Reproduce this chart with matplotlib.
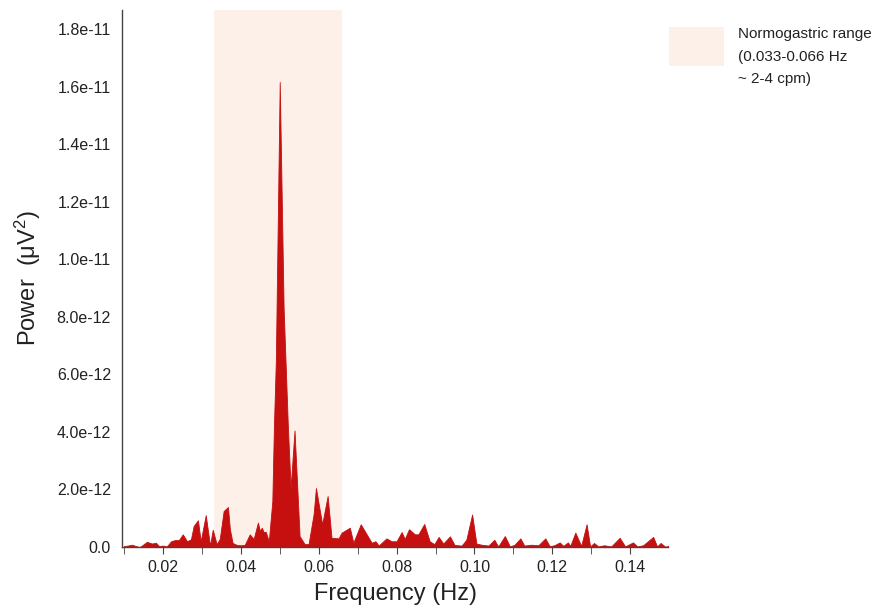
import matplotlib
matplotlib.use("Agg")
import matplotlib.pyplot as plt
from matplotlib.patches import Rectangle
from matplotlib.ticker import FixedLocator, MultipleLocator

plt.rcParams['font.family'] = ['Liberation Sans', 'DejaVu Sans']
plt.rcParams['mathtext.fontset'] = 'custom'
plt.rcParams['mathtext.rm'] = 'Liberation Sans'
plt.rcParams['mathtext.it'] = 'Liberation Sans'

# Frequency (Hz)
freq = [0.0100, 0.0110, 0.0121, 0.0131, 0.0141, 0.0151, 0.0159, 0.0172, 0.0182, 0.0190,
        0.0200, 0.0210, 0.0221, 0.0231, 0.0241, 0.0251, 0.0262, 0.0272, 0.0279, 0.0290,
        0.0297, 0.0310, 0.0321, 0.0328, 0.0338, 0.0346, 0.0356, 0.0367, 0.0372, 0.0379,
        0.0390, 0.0400, 0.0410, 0.0423, 0.0433, 0.0444, 0.0449, 0.0454, 0.0459, 0.0464,
        0.0472, 0.0481, 0.0485, 0.0490, 0.0500, 0.0510, 0.0521, 0.0528, 0.0538, 0.0551,
        0.0564, 0.0574, 0.0587, 0.0593, 0.0609, 0.0623, 0.0633, 0.0651, 0.0659, 0.0680,
        0.0689, 0.0708, 0.0736, 0.0746, 0.0754, 0.0774, 0.0787, 0.0800, 0.0813, 0.0821,
        0.0832, 0.0847, 0.0856, 0.0871, 0.0885, 0.0897, 0.0908, 0.0920, 0.0937, 0.0949,
        0.0967, 0.0979, 0.0994, 0.1005, 0.1018, 0.1036, 0.1051, 0.1061, 0.1078, 0.1091,
        0.1103, 0.1118, 0.1128, 0.1146, 0.1164, 0.1182, 0.1193, 0.1205, 0.1219, 0.1228,
        0.1240, 0.1246, 0.1259, 0.1274, 0.1288, 0.1297, 0.1307, 0.1318, 0.1333, 0.1351,
        0.1373, 0.1387, 0.1407, 0.1418, 0.1433, 0.1459, 0.1469, 0.1478, 0.1490, 0.1500]

# Power (units of 1e-12 uV^2)
power_e12 = [0.03, 0.05, 0.08, 0.03, 0.00, 0.10, 0.18, 0.12, 0.15, 0.03,
             0.05, 0.02, 0.20, 0.24, 0.24, 0.44, 0.20, 0.27, 0.73, 0.93,
             0.20, 1.11, 0.05, 0.60, 0.10, 0.28, 1.25, 1.39, 0.62, 0.14,
             0.07, 0.06, 0.07, 0.44, 0.28, 0.85, 0.56, 0.67, 0.51, 0.53,
             0.20, 1.60, 4.15, 6.46, 16.16, 8.30, 4.15, 2.06, 4.05, 0.38,
             0.10, 0.10, 1.14, 2.05, 0.79, 1.77, 0.32, 0.30, 0.50, 0.67,
             0.15, 0.79, 0.15, 0.20, 0.05, 0.30, 0.20, 0.20, 0.52, 0.28,
             0.62, 0.44, 0.44, 0.80, 0.20, 0.10, 0.35, 0.12, 0.37, 0.07,
             0.05, 0.25, 1.13, 0.12, 0.08, 0.05, 0.25, 0.02, 0.38, 0.02,
             0.08, 0.30, 0.05, 0.08, 0.06, 0.30, 0.03, 0.06, 0.16, 0.04,
             0.16, 0.04, 0.50, 0.04, 0.79, 0.02, 0.14, 0.02, 0.06, 0.02,
             0.32, 0.02, 0.16, 0.02, 0.06, 0.35, 0.02, 0.14, 0.01, 0.04]
power = [v * 1e-12 for v in power_e12]

band = (0.033, 0.066)
band_label = "Normogastric range\n(0.033-0.066 Hz\n~ 2-4 cpm)"
yticks = [0.0, 2e-12, 4e-12, 6e-12, 8e-12, 1e-11, 1.2e-11, 1.4e-11, 1.6e-11, 1.8e-11]
ytick_labels = ["0.0", "2.0e-12", "4.0e-12", "6.0e-12", "8.0e-12",
                "1.0e-11", "1.2e-11", "1.4e-11", "1.6e-11", "1.8e-11"]
xticks = [0.02, 0.04, 0.06, 0.08, 0.10, 0.12, 0.14]
xtick_labels = ["0.02", "0.04", "0.06", "0.08", "0.10", "0.12", "0.14"]

band_color = '#fdf0e8'
fill_color = '#c5100f'

fig = plt.figure(figsize=(8.77, 6.10), dpi=100)
ax = fig.add_axes([122/877, 63/610, 546/877, 537/610])

ax.axvspan(band[0], band[1], color=band_color, zorder=0, lw=0)
ax.fill_between(freq, 0, power, color=fill_color, lw=0.6, edgecolor=fill_color, zorder=2)

ax.set_xlim(0.0095, 0.1497)
ax.set_ylim(0, 1.866e-11)
ax.xaxis.set_major_locator(FixedLocator(xticks))
ax.set_xticklabels(xtick_labels)
ax.xaxis.set_minor_locator(MultipleLocator(0.01))
ax.set_yticks(yticks)
ax.set_yticklabels(ytick_labels)

for s in ['top', 'right']:
    ax.spines[s].set_visible(False)
for s in ['left', 'bottom']:
    ax.spines[s].set_color('#444444')
    ax.spines[s].set_linewidth(1.0)

ax.tick_params(axis='both', which='both', direction='out', color='#444444',
               labelcolor='#222222')
ax.tick_params(axis='x', which='major', length=5, pad=4, labelsize=11.5)
ax.tick_params(axis='x', which='minor', length=5)
ax.tick_params(axis='y', which='major', length=0, pad=8, labelsize=11.5)

ax.set_xlabel("Frequency (Hz)", fontsize=17, color='#222222', labelpad=6)
ax.set_ylabel("Power  (μV$^2$)", fontsize=17, color='#222222', labelpad=10)

# Legend (outside, right)
fig.add_artist(Rectangle((669/877, 1 - 66/610), 55/877, 39/610,
                         transform=fig.transFigure, facecolor=band_color, lw=0))
fig.text(738/877, 1 - 27/610, band_label, ha='left', va='top', fontsize=11,
         color='#222222', linespacing=1.78)

fig.savefig("out.png", dpi=100)
